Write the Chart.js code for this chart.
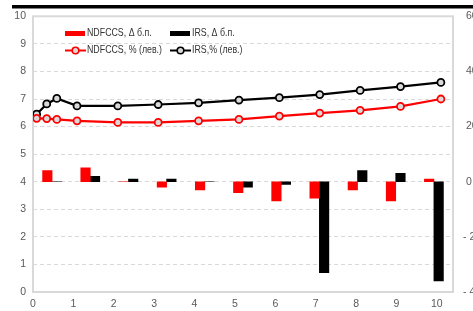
<!DOCTYPE html>
<html>
<head>
<meta charset="utf-8">
<script src="https://cdn.jsdelivr.net/npm/chart.js@4.4.0/dist/chart.umd.min.js"></script>
<style>
  html, body { margin: 0; padding: 0; background: #fff; overflow: hidden; }
  #wrap { width: 473px; height: 311px; }
</style>
</head>
<body>
<div id="wrap"><canvas id="chart" width="473" height="311"></canvas></div>
<script>
// tenors (years) for the yield curves
const tenors = [0.09, 0.34, 0.59, 1.09, 2.1, 3.1, 4.1, 5.1, 6.1, 7.1, 8.1, 9.1, 10.1];
const ndfccsRate = [6.30, 6.29, 6.26, 6.21, 6.15, 6.15, 6.21, 6.26, 6.38, 6.49, 6.59, 6.73, 7.00];
const irsRate = [6.45, 6.82, 7.02, 6.75, 6.75, 6.80, 6.86, 6.96, 7.05, 7.16, 7.31, 7.45, 7.60];

// changes in basis points (right axis)
const barCats = ['6M', '1Y', '2Y', '3Y', '4Y', '5Y', '6Y', '7Y', '8Y', '9Y', '10Y'];
const ndfccsChange = [4, 5, 0, -2, -3, -4, -7, -6, -3, -7, 1];
const irsChange = [0, 2, 1, 1, 0, -2, -1, -33, 4, 3, -36];

const leftTicks = [0, 1, 2, 3, 4, 5, 6, 7, 8, 9, 10];
const rightTicks = [-40, -20, 0, 20, 40, 60];

const RED = '#ff0000';
const BLACK = '#000000';
const GRID = '#d9d9d9';
const TEXT = '#595959';
const FONT = "'Liberation Sans', Arial, sans-serif";

function toPoints(xs, ys) {
    return xs.map((x, i) => ({ x: x, y: ys[i] }));
}

// frame around the plot and the black rule at the top
const framePlugin = {
    id: 'frame',
    beforeDraw(chart) {
        const ctx = chart.ctx;
        ctx.save();
        ctx.fillStyle = '#000';
        ctx.fillRect(12, 5, 461, 3.5);
        ctx.restore();
    },
    beforeDatasetsDraw(chart) {
        const { ctx, chartArea: a } = chart;
        ctx.save();
        ctx.strokeStyle = GRID;
        ctx.lineWidth = 2;
        ctx.strokeRect(a.left, a.top, a.right - a.left, a.bottom - a.top);
        ctx.restore();
    }
};

// legend drawn inside the plot, 2 x 2 (text squeezed a bit, the original font is narrow)
const legendPlugin = {
    id: 'innerLegend',
    afterDraw(chart) {
        const ctx = chart.ctx;
        const items = [
            { x: 65, y: 33.5, color: RED, kind: 'box', text: 'NDFCCS, \u0394 \u0431.\u043f.' },
            { x: 170, y: 33.5, color: BLACK, kind: 'box', text: 'IRS, \u0394 \u0431.\u043f.' },
            { x: 65, y: 50.5, color: RED, kind: 'line', text: 'NDFCCS, % (\u043b\u0435\u0432.)' },
            { x: 170, y: 50.5, color: BLACK, kind: 'line', text: 'IRS,% (\u043b\u0435\u0432.)' }
        ];
        ctx.save();
        ctx.font = '10.5px ' + FONT;
        ctx.textBaseline = 'middle';
        items.forEach(it => {
            if (it.kind === 'box') {
                ctx.fillStyle = it.color;
                ctx.fillRect(it.x, it.y - 2.5, 20, 5);
            } else {
                ctx.strokeStyle = it.color;
                ctx.lineWidth = 2;
                ctx.beginPath();
                ctx.moveTo(it.x, it.y);
                ctx.lineTo(it.x + 21, it.y);
                ctx.stroke();
                ctx.beginPath();
                ctx.arc(it.x + 10.5, it.y, 3.3, 0, Math.PI * 2);
                ctx.fillStyle = GRID;
                ctx.fill();
                ctx.lineWidth = 1.6;
                ctx.stroke();
            }
            ctx.fillStyle = '#333333';
            const w = ctx.measureText(it.text).width * 0.84;
            ctx.fillText(it.text, it.x + 22, it.y, w);
        });
        ctx.restore();
    }
};

const ctx = document.getElementById('chart').getContext('2d');
new Chart(ctx, {
    data: {
        labels: barCats,
        datasets: [
            {
                type: 'line',
                label: 'NDFCCS, % (лев.)',
                data: toPoints(tenors, ndfccsRate),
                xAxisID: 'x',
                yAxisID: 'y',
                borderColor: RED,
                borderWidth: 2.2,
                pointRadius: 3.5,
                pointBackgroundColor: GRID,
                pointBorderColor: RED,
                pointBorderWidth: 1.8,
                tension: 0,
                order: 0
            },
            {
                type: 'line',
                label: 'IRS,% (лев.)',
                data: toPoints(tenors, irsRate),
                xAxisID: 'x',
                yAxisID: 'y',
                borderColor: BLACK,
                borderWidth: 2.2,
                pointRadius: 3.5,
                pointBackgroundColor: GRID,
                pointBorderColor: BLACK,
                pointBorderWidth: 1.8,
                tension: 0,
                order: 0
            },
            {
                type: 'bar',
                label: 'NDFCCS, Δ б.п.',
                data: ndfccsChange,
                xAxisID: 'xb',
                yAxisID: 'y2',
                backgroundColor: RED,
                barThickness: 9.5,
                order: 1
            },
            {
                type: 'bar',
                label: 'IRS, Δ б.п.',
                data: irsChange,
                xAxisID: 'xb',
                yAxisID: 'y2',
                backgroundColor: BLACK,
                barThickness: 9.5,
                order: 1
            }
        ]
    },
    options: {
        responsive: false,
        animation: false,
        layout: { padding: { top: 15, left: 0, right: 0, bottom: 0 } },
        plugins: {
            legend: { display: false },
            tooltip: { enabled: false }
        },
        scales: {
            x: {
                type: 'linear',
                position: 'bottom',
                min: 0,
                max: 10.4,
                grid: { display: false, drawTicks: false },
                border: { display: false },
                ticks: {
                    stepSize: 1,
                    includeBounds: false,
                    padding: 6,
                    color: TEXT,
                    font: { family: FONT, size: 10.5 },
                    maxRotation: 0
                },
                afterFit(scale) { scale.height = 19; }
            },
            xb: {
                type: 'category',
                display: false,
                offset: true,
                grid: { display: false }
            },
            y: {
                type: 'linear',
                position: 'left',
                min: 0,
                max: 10,
                afterBuildTicks(scale) { scale.ticks = leftTicks.map(v => ({ value: v })); },
                grid: {
                    drawTicks: false,
                    color: c => (c.tick.value === 0 || c.tick.value === 10) ? 'rgba(0,0,0,0)' : GRID,
                    lineWidth: 1
                },
                border: { display: false, dash: [4, 3] },
                ticks: {
                    padding: 7,
                    color: TEXT,
                    font: { family: FONT, size: 10.5 }
                },
                afterFit(scale) { scale.width = 33; }
            },
            y2: {
                type: 'linear',
                position: 'right',
                min: -40,
                max: 60,
                afterBuildTicks(scale) { scale.ticks = rightTicks.map(v => ({ value: v })); },
                grid: { display: false, drawTicks: false },
                border: { display: false },
                ticks: {
                    padding: 10,
                    color: TEXT,
                    font: { family: FONT, size: 10.5 },
                    callback: v => v < 0 ? '- ' + Math.abs(v) : ' ' + v
                },
                afterFit(scale) { scale.width = 20; }
            }
        }
    },
    plugins: [framePlugin, legendPlugin]
});
</script>
</body>
</html>
